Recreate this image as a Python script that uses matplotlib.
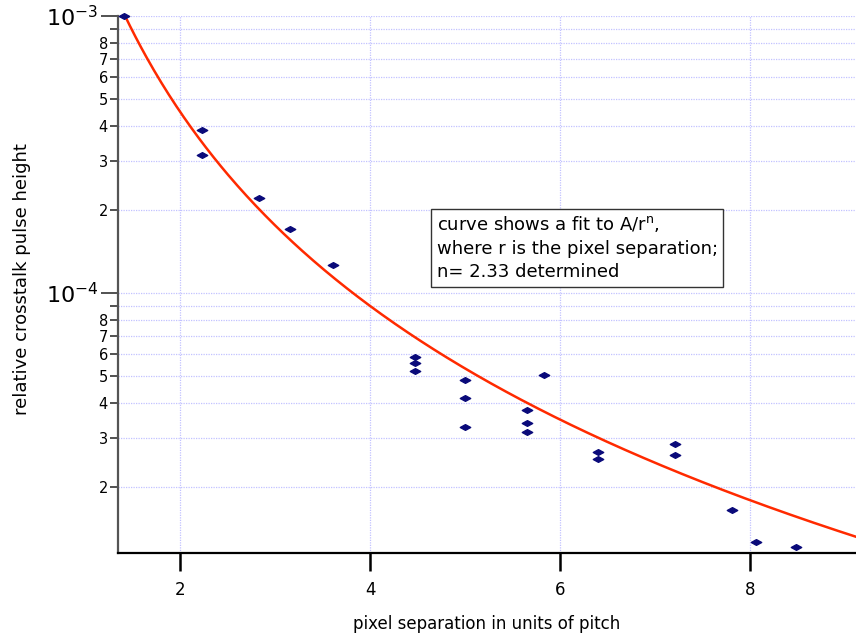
import numpy as np
import matplotlib
matplotlib.use("Agg")
import matplotlib.pyplot as plt
from matplotlib.path import Path
from matplotlib.ticker import FixedLocator, FixedFormatter

# ---- data ----
sep = [1.414, 2.236, 2.236, 2.828, 3.162, 3.606,
       4.472, 4.472, 4.472, 5.0, 5.0, 5.0,
       5.657, 5.657, 5.657, 5.831, 6.403, 6.403,
       7.211, 7.211, 7.810, 8.062, 8.485]
pulse = [1.0e-3, 3.88e-4, 3.15e-4, 2.20e-4, 1.70e-4, 1.26e-4,
         5.86e-5, 5.60e-5, 5.22e-5, 4.84e-5, 4.19e-5, 3.29e-5,
         3.79e-5, 3.40e-5, 3.14e-5, 5.07e-5, 2.67e-5, 2.52e-5,
         2.84e-5, 2.59e-5, 1.64e-5, 1.26e-5, 1.21e-5]
fit_A = 2.27e-3
fit_n = 2.33
fit_range = (1.414, 9.2)

x_ticks = [2, 4, 6, 8]
y_major = [1e-4, 1e-3]
y_major_labels = [r"$10^{-4}$", r"$10^{-3}$"]
y_minor_digits = [2, 3, 4, 5, 6, 7, 8, 9]

plt.rcParams['font.family'] = ['DejaVu Sans']
plt.rcParams['mathtext.fontset'] = 'dejavusans'

fig = plt.figure(figsize=(8.56, 6.36), dpi=100)
ax = fig.add_axes([117.7/856, 83/636, (856-117.7)/856, (553-16)/636])

ax.set_yscale('log')
ax.set_xlim(1.344, 9.116)
ax.set_ylim(1.151e-5, 1.0e-3)

grid_col = (0.76, 0.76, 1.0)
for xv in x_ticks:
    ax.axvline(xv, color=grid_col, lw=0.9, ls=(0, (1, 1)), zorder=0)
minor_vals = []
for dec in [1e-5, 1e-4]:
    for d in y_minor_digits:
        v = d * dec
        if 1.151e-5 <= v <= 1e-3:
            minor_vals.append(v)
for yv in minor_vals + y_major:
    ax.axhline(yv, color=grid_col, lw=0.9, ls=(0, (1, 1)), zorder=0)

# fit curve
xf = np.linspace(fit_range[0], fit_range[1], 400)
ax.plot(xf, fit_A / xf**fit_n, color='#ff2a00', lw=1.8, zorder=2)

# markers: flattened diamond
diamond = Path([(-1, 0), (0, 0.55), (1, 0), (0, -0.55), (-1, 0)],
               [Path.MOVETO, Path.LINETO, Path.LINETO, Path.LINETO, Path.CLOSEPOLY])
ax.plot(sep, pulse, ls='none', marker=diamond, markersize=7.5,
        color='#0a0a7a', mec='#0a0a7a', zorder=3, clip_on=False)

for s in ['top', 'right']:
    ax.spines[s].set_visible(False)
ax.spines['left'].set_color('#555555')
ax.spines['left'].set_linewidth(1.6)
ax.spines['bottom'].set_color('black')
ax.spines['bottom'].set_linewidth(1.6)

ax.xaxis.set_major_locator(FixedLocator(x_ticks))
ax.set_xticklabels([str(t) for t in x_ticks])
ax.tick_params(axis='x', which='major', direction='out', length=13, width=1.8,
               labelsize=12, pad=7, color='black')
ax.xaxis.set_minor_locator(FixedLocator([]))

ax.yaxis.set_major_locator(FixedLocator(y_major))
ax.yaxis.set_major_formatter(FixedFormatter(y_major_labels))
ax.yaxis.set_minor_locator(FixedLocator(minor_vals))
minor_labels = []
for v in minor_vals:
    d = int(round(v / 10**np.floor(np.log10(v) + 1e-9)))
    minor_labels.append('' if d == 9 else str(d))
ax.yaxis.set_minor_formatter(FixedFormatter(minor_labels))
ax.tick_params(axis='y', which='major', direction='out', length=12, width=1.2,
               labelsize=16, pad=2, color='#333333')
ax.tick_params(axis='y', which='minor', direction='out', length=6, width=1.2,
               labelsize=10.5, pad=1, color='#333333')

ax.set_xlabel('pixel separation in units of pitch', fontsize=12, labelpad=12)
ax.set_ylabel('relative crosstalk pulse height', fontsize=13, labelpad=14)
ax.yaxis.set_label_coords(-0.118, 0.51)

ax.text(0.432, 0.631, "curve shows a fit to A/r$^{\\rm n}$,\nwhere r is the pixel separation;\nn= 2.33 determined",
        transform=ax.transAxes, fontsize=13, va='top', ha='left', linespacing=1.4,
        bbox=dict(boxstyle='square,pad=0.3', fc='white', ec='#333333', lw=1.0), zorder=5)

fig.savefig('out.png', dpi=100)
